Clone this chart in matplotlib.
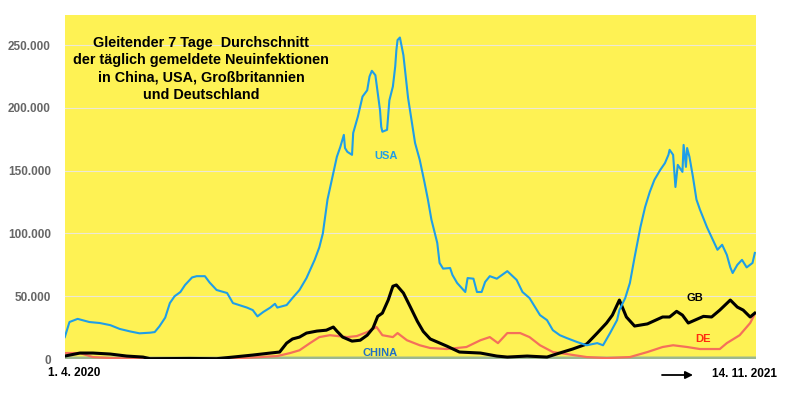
import numpy as np
import matplotlib as mpl
import matplotlib.pyplot as plt
from matplotlib.ticker import FuncFormatter

# Tage seit 1.4.2020, Werte in Tausend (7-Tage-Schnitt)
usa_days = [0, 4, 11, 21, 30, 39, 47, 56, 64, 73, 77, 81, 86, 90, 94, 99, 103, 109, 113, 120,
            124, 130, 139, 144, 156, 161, 165, 170, 176, 180, 182, 190, 195, 201, 207, 214, 218,
            221, 225, 230, 233, 236, 239, 240, 242, 246, 247, 251, 255, 259, 261, 263, 266, 268,
            270, 271, 272, 276, 278, 281, 283, 284, 285, 287, 290, 292, 294, 297, 300, 304, 308,
            311, 314, 319, 321, 324, 330, 332, 336, 343, 345, 350, 353, 357, 360, 364, 370, 379,
            387, 392, 398, 407, 413, 418, 424, 430, 439, 447, 456, 461, 467, 473, 475, 480, 484,
            488, 493, 497, 501, 505, 510, 514, 517, 518, 521, 523, 525, 529, 530, 532, 533, 535,
            538, 541, 544, 550, 554, 559, 563, 567, 570, 572, 576, 580, 584, 589, 591]
usa_vals = [17.5, 29.5, 32, 29.5, 28.7, 27, 24, 22, 20.5, 21, 21.5, 26, 33, 44.6, 50, 53.4, 59, 65,
            66, 66, 61, 55, 52.6, 44.6, 41, 39, 34, 37.5, 41, 44, 41, 43, 48.6, 55, 64.5, 79, 89,
            100, 127, 148, 161, 169, 178.5, 168, 165, 162.6, 180, 193, 209, 214, 225, 229.5, 226,
            212, 198, 185, 181, 182.5, 206, 217, 233, 246, 254, 256, 242, 225, 208, 190, 172,
            158.6, 141, 127, 111, 92.5, 76.5, 72, 72.5, 67, 60.6, 53.4, 64.5, 64, 53.4, 53.4,
            61.4, 66, 64, 70, 63, 53.4, 48.6, 35, 31, 23, 19, 16.7, 13.5, 11, 12.7, 11, 20.7, 31,
            39, 48.6, 60.6, 81, 105, 121, 133, 142.7, 150.6, 156, 162.6, 166.6, 162.6, 137, 154.6,
            149, 170.5, 153, 168, 161, 145, 127, 119, 105, 97, 87, 91, 83, 73, 68.5, 75, 79, 73,
            76.5, 84.5]

gb_days = [0, 13, 24, 39, 53, 67, 73, 107, 130, 144, 161, 176, 184, 190, 195, 201, 207, 216, 224,
           230, 233, 238, 246, 253, 259, 264, 268, 272, 277, 281, 284, 290, 296, 302, 307, 313, 327,
           338, 356, 370, 379, 396, 413, 421, 435, 447, 456, 464, 469, 475, 481, 488, 499, 512,
           518, 524, 529, 534, 547, 554, 561, 570, 576, 581, 587, 591]
gb_vals = [2.4, 4.8, 4.8, 4, 2.4, 1.6, 0.3, 0.5, 0.3, 1.6, 3.2, 4.8, 5.6, 12.7, 16, 17.5, 20.7, 22.3,
           23, 25.5, 22.3, 17.5, 14.3, 15, 19, 24.7, 34, 36.6, 47, 58, 59, 52.6, 41.4, 30, 22, 16,
           10.4, 5.6, 4.8, 2.4, 1.6, 2.4, 1.6, 4, 8, 12, 20.7, 28.7, 35, 47, 33.5, 26.3, 28, 33.5,
           33.5, 38, 35, 28.7, 34, 33.5, 39, 47, 41.4, 39, 33.5, 36.6]

de_days = [0, 13, 24, 39, 73, 141, 167, 182, 193, 201, 210, 218, 227, 242, 250, 259, 267, 272, 281,
           285, 293, 304, 313, 327, 344, 356, 364, 371, 379, 390, 398, 407, 418, 430, 447, 464,
           484, 499, 512, 521, 533, 544, 561, 567, 578, 587, 591]
de_vals = [4.8, 4.8, 1.6, 0.8, 0.3, 0.3, 1.6, 2.4, 4.8, 7, 12.7, 17.5, 19, 17.5, 18.3, 21.5, 25.5,
           19, 17.5, 20.7, 15, 11, 8.8, 8, 9.6, 15, 17.5, 12.7, 20.7, 20.7, 17.5, 11, 5.6, 4, 1.6,
           0.8, 1.6, 5.6, 9.6, 11, 9.6, 8, 8, 12.7, 19, 28.7, 36]

china_days = [0, 100, 200, 300, 400, 500, 591]
china_vals = [0.1, 0.05, 0.05, 0.1, 0.1, 0.1, 0.1]

mpl.rcParams["font.family"] = ["Liberation Sans", "DejaVu Sans"]

fig = plt.figure(figsize=(8, 4.03), dpi=100)
ax = fig.add_axes([0.081, 0.109, 0.864, 0.854])
ax.set_facecolor("#fef254")

# China liegt fast auf der Nulllinie
ax.plot(china_days, np.array(china_vals) * 1000, color="#9db88e", lw=3.5)
ax.plot(de_days, np.array(de_vals) * 1000, color="#f5705a", lw=1.6)
ax.plot(gb_days, np.array(gb_vals) * 1000, color="black", lw=2.2)
ax.plot(usa_days, np.array(usa_vals) * 1000, color="#1f9ee8", lw=1.5)

ax.set_xlim(0, 592)
ax.set_ylim(0, 274000)
ax.set_yticks([0, 50000, 100000, 150000, 200000, 250000])
ax.yaxis.set_major_formatter(FuncFormatter(lambda v, p: f"{int(v):,}".replace(",", ".")))
ax.set_xticks([])
ax.tick_params(axis="y", length=0, pad=10, labelsize=8.5, labelcolor="#666666")
for lab in ax.get_yticklabels():
    lab.set_fontweight("bold")
ax.grid(axis="y", color="#ece8d6", lw=0.8)
for s in ax.spines.values():
    s.set_visible(False)

# Titel im Diagramm
ax.text(0.197, 0.843, "Gleitender 7 Tage  Durchschnitt\nder täglich gemeldete Neuinfektionen\n"
        "in China, USA, Großbritannien\nund Deutschland",
        transform=ax.transAxes, ha="center", va="center", fontsize=10.4, fontweight="bold",
        linespacing=1.3)

# Beschriftung der Kurven
ax.text(275, 162000, "USA", color="#1f9ee8", fontsize=8, fontweight="bold", ha="center", va="center")
ax.text(270, 4500, "CHINA", color="#1f6fc6", fontsize=8, fontweight="bold", ha="center", va="center")
ax.text(540, 48500, "GB", color="black", fontsize=8, fontweight="bold", ha="center", va="center")
ax.text(547, 16000, "DE", color="#ff2a10", fontsize=8, fontweight="bold", ha="center", va="center")

# Datumsangaben unten
fig.text(48 / 800, 1 - 373 / 403, "1. 4. 2020", fontsize=8.5, fontweight="bold", ha="left", va="center")
fig.text(712 / 800, 1 - 374 / 403, "14. 11. 2021", fontsize=8.5, fontweight="bold", ha="left", va="center")
ax.annotate("", xy=(693 / 800, 1 - 375 / 403), xytext=(662 / 800, 1 - 375 / 403),
            xycoords="figure fraction", textcoords="figure fraction",
            arrowprops=dict(arrowstyle="-|>", color="black", lw=1.3, mutation_scale=11,
                            shrinkA=0, shrinkB=0))

plt.savefig("out.png", dpi=100)
